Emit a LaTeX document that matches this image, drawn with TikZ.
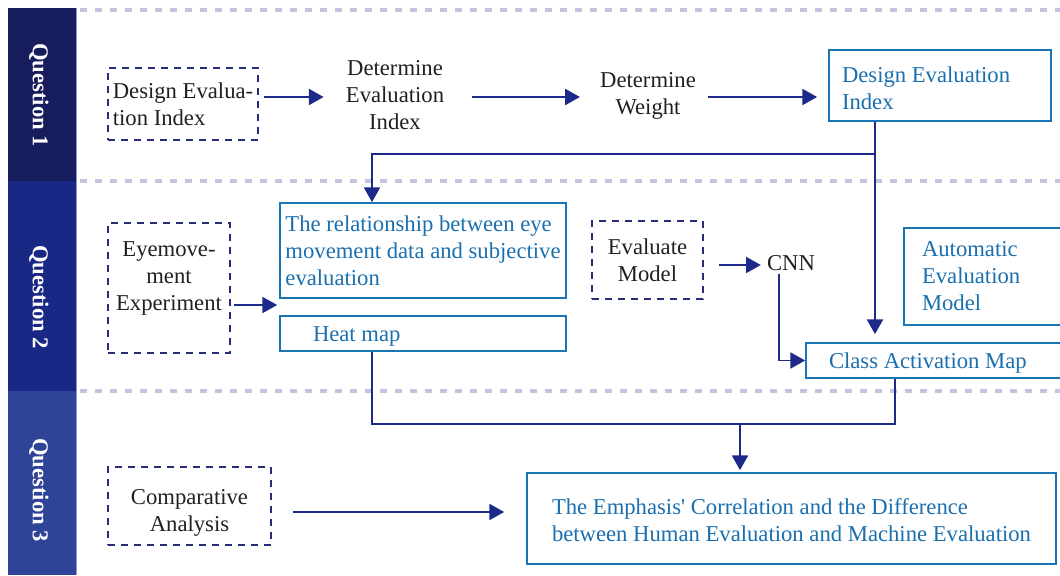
\documentclass[tikz,border=0pt]{standalone}
\usepackage{fontspec}
\setmainfont{Liberation Serif}
\usepackage{xcolor}
\usepackage{tikz}
\usetikzlibrary{arrows.meta}

\definecolor{bandone}{HTML}{171C5C}
\definecolor{bandtwo}{HTML}{1A2885}
\definecolor{bandthree}{HTML}{2F4497}
\definecolor{sepgray}{HTML}{C2C5DE}
\definecolor{navy}{HTML}{1E2A8A}
\definecolor{dashnavy}{HTML}{262D78}
\definecolor{boxblue}{HTML}{1B74B6}
\definecolor{txtblue}{HTML}{1A6FAE}
\definecolor{txtblack}{HTML}{231F20}

\begin{document}
\begin{tikzpicture}[x=0.75pt,y=-0.75pt,
		every node/.style={font=\fontsize{17}{20.25}\selectfont},
		plain/.style={text=txtblack, align=center, inner sep=0pt},
		dashbox/.style={draw=dashnavy, line width=1.4pt, dash pattern=on 5.25pt off 4.5pt, text=txtblack, align=center},
		bluebox/.style={draw=boxblue, line width=1.3pt, text=txtblue, align=flush left},
		arr/.style={draw=navy, line width=1.2pt, -{Triangle[length=11pt,width=12pt]}},
		link/.style={draw=navy, line width=1.2pt},
		sepline/.style={sepgray, line width=3pt, dash pattern=on 5.5pt off 5.75pt},
		qlabel/.style={text=white, font=\fontsize{17}{20}\selectfont\bfseries, rotate=-90}]
		\useasboundingbox (0,0) rectangle (1060,575);
		% question bands
		\fill[bandone] (8,8) rectangle (76,181);
		\fill[bandtwo] (8,181) rectangle (76,391);
		\fill[bandthree] (8,391) rectangle (76,575);
		\draw[bandthree!55, line width=0.8pt] (76.5,8) -- (76.5,575);
		\node[qlabel] (qone) at (39,95) {Question 1};
		\node[qlabel] (qtwo) at (39,297) {Question 2};
		\node[qlabel] (qthree) at (39,490) {Question 3};
		\draw[sepline] (80,10) -- (1060,10);
		\draw[sepline] (80,181) -- (1060,181);
		\draw[sepline] (80,391) -- (1060,391);

		% question 1
		\node[dashbox, align=left, minimum width=112.5pt, minimum height=54pt] (idxdraft) at (183,104) {Design Evalua-\\tion Index};
		\node[plain] (detindex) at (395,95) {Determine\\Evaluation\\Index};
		\node[plain] (detweight) at (648,95.5) {Determine\\Weight};
		\node[bluebox, text width=147pt, inner xsep=9.75pt, minimum height=53.25pt] (designindex) at (940,85.5) {\rule{0pt}{16pt}Design Evaluation\\Index};
		\draw[arr, shorten <=3.75pt, shorten >=16.5pt] (idxdraft.east |- 0,97) -- (detindex.west |- 0,97);
		\draw[arr, shorten <=21pt, shorten >=15pt] (detindex.east |- 0,97) -- (detweight.west |- 0,97);
		\draw[arr, shorten <=9pt, shorten >=8.25pt] (detweight.east |- 0,97) -- (designindex.west |- 0,97);

		% question 2
		\node[dashbox, minimum width=91.5pt, minimum height=97.5pt] (eyeexp) at (169,288) {Eyemove-\\ment\\Experiment\rule[-18pt]{0pt}{18pt}};
		\node[bluebox, align=left, minimum width=214.5pt, minimum height=71.25pt, inner xsep=1pt] (relation) at (423,250.5) {The relationship between eye\\movement data and subjective\\evaluation};
		\node[bluebox, text width=165pt, inner xsep=24.75pt, minimum height=26.25pt, inner ysep=1pt] (heatmap) at (423,333.5) {\rule{0pt}{15pt}Heat map};
		\node[dashbox, minimum width=83.25pt, minimum height=58.5pt] (evalmodel) at (647.5,260) {Evaluate\\Model};
		\node[plain] (cnn) at (791,263) {CNN};
		\node[bluebox, text width=93pt, inner xsep=13.5pt, minimum height=72.75pt] (automodel) at (984,276.5) {Automatic\\Evaluation\\Model};
		\node[bluebox, text width=159pt, inner xsep=17.25pt, minimum height=26.25pt, inner ysep=1pt] (cam) at (935,360.5) {\rule{0pt}{16pt}Class Activation Map};
		\coordinate (split) at (875,154);
		\draw[link] (designindex.south -| split) -- (split);
		\draw[arr, shorten >=6pt] (split) -- (cam.north -| split);
		\draw[arr] (split) -| (relation.north -| 372,0);
		\draw[arr, shorten <=2.25pt, shorten >=1.5pt] (eyeexp.east |- 0,305) -- (relation.west |- 0,305);
		\draw[arr, shorten <=11.25pt, shorten >=4.5pt] (evalmodel.east |- 0,265) -- (cnn.west |- 0,265);
		\draw[arr, shorten <=2pt] (cnn.south -| 779,0) |- (cam.west);

		% question 3
		\node[dashbox, minimum width=122.25pt, minimum height=58.5pt] (compare) at (189.5,506) {\rule{0pt}{21pt}Comparative\\Analysis};
		\node[bluebox, align=left, minimum width=396.75pt, minimum height=68.25pt] (emphasis) at (791.5,518.5) {\rule{0pt}{15pt}The Emphasis\textquotesingle\ Correlation and the Difference\\between Human Evaluation and Machine Evaluation};
		\coordinate (merge) at (740,424);
		\draw[link] (heatmap.south -| 372,0) |- (merge) -| (cam.south -| 895,0);
		\draw[arr, shorten >=1.5pt] (merge) -- (emphasis.north -| merge);
		\draw[arr, shorten <=15.75pt, shorten >=16.5pt] (compare.east |- 0,512) -- (emphasis.west |- 0,512);
	\end{tikzpicture}
\end{document}
